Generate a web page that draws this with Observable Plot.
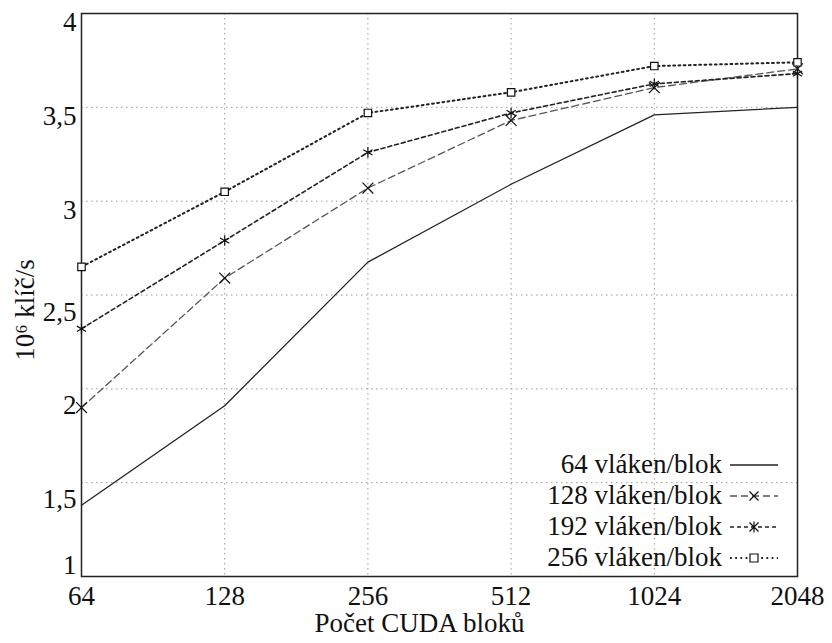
<!DOCTYPE html>
<html>
<head>
<meta charset="utf-8">
<script src="https://cdn.jsdelivr.net/npm/d3@7"></script>
<script src="https://cdn.jsdelivr.net/npm/@observablehq/plot@0.6"></script>
<style>
  html, body { margin: 0; padding: 0; background: #fff; }
  #wrap { position: relative; width: 832px; height: 643px; font-family: 'Liberation Serif', 'Times New Roman', 'DejaVu Serif', serif; }
  #wrap svg text { font-family: 'Liberation Serif', 'Times New Roman', 'DejaVu Serif', serif; }
  #legend { position: absolute; right: 54px; top: 449px; font-size: 27px; color: #111; }
  #legend .row { display: flex; align-items: center; justify-content: flex-end; height: 31px; }
  #legend svg { margin-left: 8px; }
</style>
</head>
<body>
<div id="wrap"></div>
<script>
const blocks = [64, 128, 256, 512, 1024, 2048];
const seriesNames = ["64 vláken/blok", "128 vláken/blok", "192 vláken/blok", "256 vláken/blok"];
const t64  = [1.38, 1.91, 2.675, 3.09, 3.46, 3.50];
const t128 = [1.90, 2.59, 3.07, 3.43, 3.605, 3.705];
const t192 = [2.32, 2.79, 3.26, 3.47, 3.625, 3.68];
const t256 = [2.65, 3.05, 3.47, 3.58, 3.72, 3.74];
const yTicks = [1, 1.5, 2, 2.5, 3, 3.5, 4];
const xTitle = "Počet CUDA bloků";
const yTitle = "10⁶ klíč/s";

const toRows = (vals, name) => blocks.map((b, i) => ({b, v: vals[i], name}));
const d64 = toRows(t64, seriesNames[0]);
const d128 = toRows(t128, seriesNames[1]);
const d192 = toRows(t192, seriesNames[2]);
const d256 = toRows(t256, seriesNames[3]);

const styles = [
  {dash: null, symbol: null, width: 1.3, color: "#222"},
  {dash: "7,4", symbol: "times", width: 1.3, color: "#555"},
  {dash: "4,3", symbol: "asterisk", width: 1.6, color: "#222"},
  {dash: "1.8,3.4", symbol: "square", width: 2, color: "#222"}
];
const fmt = d => String(d).replace(".", ",");
const datasets = [d64, d128, d192, d256];
const FONT = "'Liberation Serif', 'Times New Roman', 'DejaVu Serif', serif";

const marks = [
  Plot.gridX(blocks.slice(1, -1), {stroke: "#999", strokeOpacity: 1, strokeDasharray: "1.5,3.5"}),
  Plot.gridY(yTicks.slice(1, -1), {stroke: "#999", strokeOpacity: 1, strokeDasharray: "1.5,3.5"}),
  Plot.frame({stroke: "#222", strokeWidth: 1.5}),
  Plot.axisX(blocks, {tickSize: 0, tickPadding: 9, fontSize: 27, tickFormat: d => String(d), label: null}),
  Plot.axisY([4, 3.5, 3], {tickSize: 0, tickPadding: 5, dy: 9, fontSize: 27, tickFormat: fmt, label: null}),
  Plot.axisY([2.5, 2, 1.5], {tickSize: 0, tickPadding: 5, dy: 17, fontSize: 27, tickFormat: fmt, label: null}),
  Plot.axisY([1], {tickSize: 0, tickPadding: 5, dy: -11, fontSize: 27, tickFormat: fmt, label: null}),
];
datasets.forEach((d, i) => {
  const s = styles[i];
  marks.push(Plot.line(d, {x: "b", y: "v", stroke: s.color, strokeWidth: s.width, strokeDasharray: s.dash}));
  if (s.symbol) {
    marks.push(Plot.dot(d, {x: "b", y: "v", symbol: s.symbol, r: s.symbol === "square" ? 4.2 : 5, stroke: "#111", strokeWidth: 1.2, fill: s.symbol === "square" ? "white" : "none"}));
  }
});
marks.push(Plot.text([xTitle], {frameAnchor: "bottom", lineAnchor: "middle", textAnchor: "middle", dy: 47, dx: -20, fontSize: 27, fill: "#111"}));
marks.push(Plot.text([yTitle], {frameAnchor: "left", textAnchor: "middle", lineAnchor: "middle", rotate: -90, dx: -56, dy: 15, fontSize: 27, fill: "#111"}));

const chart = Plot.plot({
  width: 832,
  height: 643,
  marginLeft: 81,
  marginRight: 35,
  marginTop: 13,
  marginBottom: 67,
  style: {fontFamily: FONT, fontSize: "27px", color: "#111", background: "white"},
  x: {type: "log", base: 2, domain: [64, 2048]},
  y: {domain: [1, 4]},
  marks
});
const wrap = document.getElementById("wrap");
wrap.appendChild(chart);

// legend (inside plot area, bottom right)
const legend = document.createElement("div");
legend.id = "legend";
const symbolPath = {
  times: "M-4.5,-4.5L4.5,4.5M-4.5,4.5L4.5,-4.5",
  asterisk: "M-4.5,-4.5L4.5,4.5M-4.5,4.5L4.5,-4.5M0,-5.5L0,5.5",
  square: "M-4,-4H4V4H-4Z"
};
seriesNames.forEach((name, i) => {
  const s = styles[i];
  const row = document.createElement("div");
  row.className = "row";
  const span = document.createElement("span");
  span.textContent = name;
  row.appendChild(span);
  const ns = "http://www.w3.org/2000/svg";
  const svg = document.createElementNS(ns, "svg");
  svg.setAttribute("width", 48); svg.setAttribute("height", 31);
  const line = document.createElementNS(ns, "line");
  line.setAttribute("x1", 0); line.setAttribute("x2", 48);
  line.setAttribute("y1", 16); line.setAttribute("y2", 16);
  line.setAttribute("stroke", s.color); line.setAttribute("stroke-width", s.width);
  if (s.dash) line.setAttribute("stroke-dasharray", s.dash);
  svg.appendChild(line);
  if (s.symbol) {
    const p = document.createElementNS(ns, "path");
    p.setAttribute("d", symbolPath[s.symbol]);
    p.setAttribute("transform", "translate(24,16)");
    p.setAttribute("stroke", "#111"); p.setAttribute("stroke-width", 1.2);
    p.setAttribute("fill", s.symbol === "square" ? "white" : "none");
    svg.appendChild(p);
  }
  row.appendChild(svg);
  legend.appendChild(row);
});
wrap.appendChild(legend);
</script>
</body>
</html>
